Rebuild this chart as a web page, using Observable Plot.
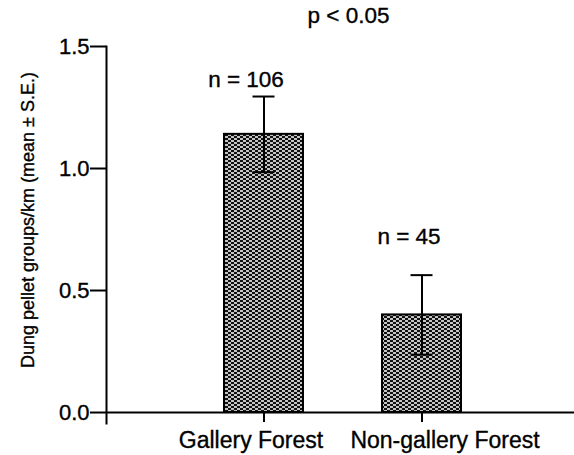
<!DOCTYPE html>
<html>
<head>
<meta charset="utf-8">
<script src="https://cdn.jsdelivr.net/npm/d3@7"></script>
<script src="https://cdn.jsdelivr.net/npm/@observablehq/plot@0.6"></script>
<style>
  html, body { margin: 0; padding: 0; background: #fff; }
  #chart svg { display: block; }
  #chart svg text { stroke: #000; stroke-width: 0.35px; paint-order: stroke; }
</style>
</head>
<body>
<div id="chart"></div>
<script>
// ---- data ----
const categories = ["Gallery Forest", "Non-gallery Forest"];
const means = [1.14, 0.40];
const stdErrors = [0.155, 0.163];
const sampleLabels = ["n = 106", "n = 45"];
const yTicks = [0, 0.5, 1.0, 1.5];
const yLabel = "Dung pellet groups/km (mean \u00B1 S.E.)";
const pLabel = "p < 0.05";

const data = categories.map((c, i) => ({
  cat: c, mean: means[i], se: stdErrors[i],
  lo: means[i] - stdErrors[i], hi: means[i] + stdErrors[i], n: sampleLabels[i]
}));

const font = "'Liberation Sans', Arial, Helvetica, sans-serif";

const svg = Plot.plot({
  width: 574,
  height: 455,
  marginLeft: 106,
  marginRight: 0,
  marginTop: 46,
  marginBottom: 32,
  style: { fontFamily: font, fontSize: "22px", background: "white", color: "black" },
  x: { type: "band", domain: categories, paddingInner: 0.5, paddingOuter: 0.73, align: 0.51, axis: null },
  y: { domain: [-0.045, 1.5], axis: null },
  marks: [
    Plot.barY(data, { x: "cat", y1: 0, y2: "mean", fill: "url(#chk)", stroke: "black", strokeWidth: 2 }),
    Plot.ruleY([0], { stroke: "black", strokeWidth: 2 }),
    Plot.frame({ anchor: "left", stroke: "black", strokeWidth: 2 }),
    Plot.axisY({ ticks: yTicks, tickFormat: d3.format(".1f"), tickSize: 16, tickPadding: 1, strokeWidth: 2, fontSize: 22, fill: "black" }),
    Plot.ruleX(data, { x: "cat", y1: 0, y2: -0.041, stroke: "black", strokeWidth: 2 }),
    Plot.ruleX(data, { x: "cat", y1: "lo", y2: "hi", stroke: "black", strokeWidth: 2 }),
    Plot.tickY(data, { x: "cat", y: "lo", insetLeft: 28.5, insetRight: 28.5, stroke: "black", strokeWidth: 2 }),
    Plot.tickY(data, { x: "cat", y: "hi", insetLeft: 28.5, insetRight: 28.5, stroke: "black", strokeWidth: 2 }),
    // sample-size annotations
    Plot.text(data.slice(0, 1), { x: "cat", y: "hi", text: "n", dx: -18, dy: -17, fontSize: 22.5, fill: "black" }),
    Plot.text(data.slice(1, 2), { x: "cat", y: "hi", text: "n", dx: -13, dy: -38, fontSize: 22.5, fill: "black" }),
    // category labels
    Plot.text(data.slice(0, 1), { x: "cat", text: "cat", frameAnchor: "bottom", dx: -13, dy: 24, fontSize: 23, fill: "black" }),
    Plot.text(data.slice(1, 2), { x: "cat", text: "cat", frameAnchor: "bottom", dx: 23, dy: 24, fontSize: 23, fill: "black" }),
    // significance label
    Plot.text([pLabel], { frameAnchor: "top", text: d => d, dx: 8, dy: -39, fontSize: 22.5, fill: "black" }),
    // y-axis title
    Plot.text([yLabel], { frameAnchor: "left", textAnchor: "middle", text: d => d, rotate: -90, dx: -78, dy: -15, fontSize: 18, fill: "black" })
  ]
});

const ns = "http://www.w3.org/2000/svg";
const defs = document.createElementNS(ns, "defs");
defs.innerHTML = `<pattern id="chk" width="6" height="4" patternUnits="userSpaceOnUse">
  <rect width="6" height="4" fill="#c4c4c4"/>
  <rect x="0" y="0" width="3" height="2" fill="#111111"/>
  <rect x="3" y="2" width="3" height="2" fill="#111111"/>
</pattern>`;
svg.insertBefore(defs, svg.firstChild);
document.getElementById("chart").appendChild(svg);
</script>
</body>
</html>
